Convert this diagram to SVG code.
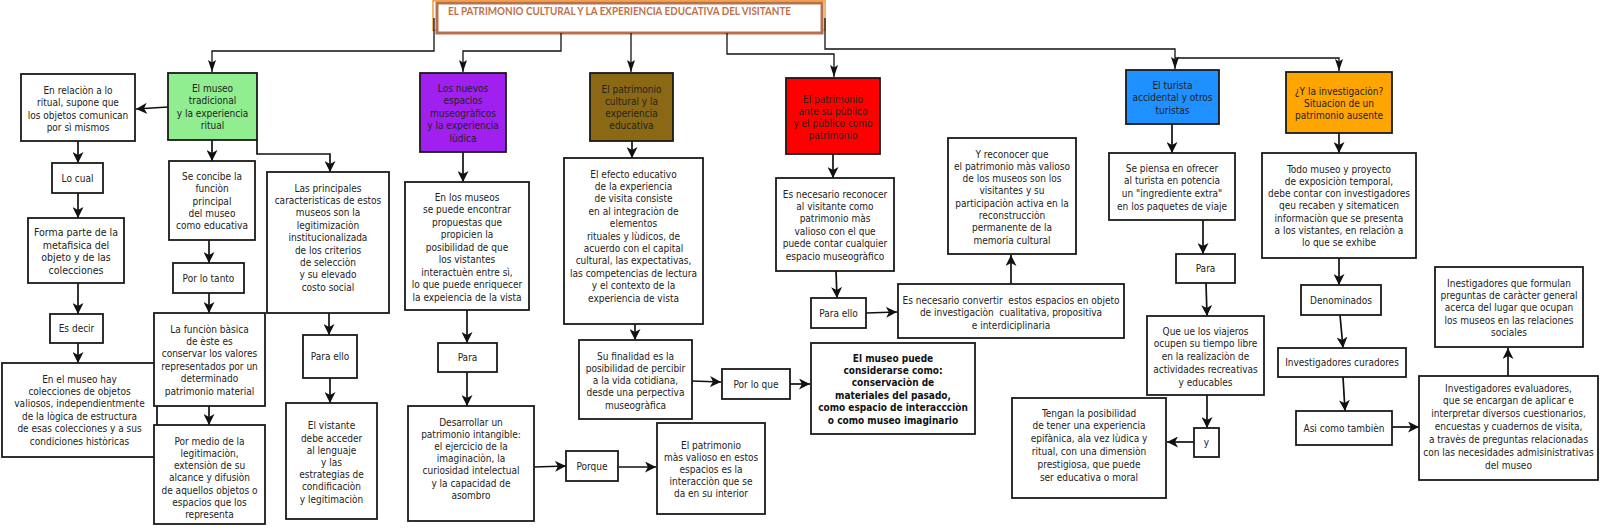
<svg xmlns="http://www.w3.org/2000/svg" width="1600" height="530" viewBox="0 0 1600 530">
<style>
.box{fill:#fff;stroke:#1a1a1a;stroke-width:1.8}
.t{font-family:"DejaVu Sans Condensed","DejaVu Sans",sans-serif;font-size:10px;fill:#222;text-anchor:middle}
.b{font-weight:bold;fill:#111}
.c{fill:none;stroke:#111;stroke-width:1.7;marker-end:url(#ah)}
.ct{fill:none;stroke:#111;stroke-width:1.3;marker-end:url(#ah2)}
</style>
<defs>
<marker id="ah" markerUnits="userSpaceOnUse" markerWidth="12" markerHeight="11" refX="11" refY="5.5" orient="auto"><path d="M0,0 L11,5.5 L0,11 L3,5.5 z" fill="#111"/></marker>
<marker id="ah2" markerUnits="userSpaceOnUse" markerWidth="13" markerHeight="8" refX="12" refY="4" orient="auto"><path d="M0,0 L12,4 L0,8 L2.5,4 z" fill="#111"/></marker>
</defs>
<rect width="1600" height="530" fill="#fff"/>

<g id="title">
<rect x="433" y="0.8" width="392" height="29.5" fill="none" stroke="#F2A24E" stroke-width="1.6"/>
<rect x="437" y="3" width="385" height="30" fill="#fff" stroke="#B7714F" stroke-width="3"/>
<text x="448" y="14.5" font-family="Lato,'Open Sans',sans-serif" font-weight="bold" font-size="10.5" fill="#C0714B" textLength="343" lengthAdjust="spacingAndGlyphs">EL PATRIMONIO CULTURAL Y LA EXPERIENCIA EDUCATIVA DEL VISITANTE</text>
</g>

<g id="connectors">
<path class="ct" d="M434,18 V51 H212 V72"/>
<path class="ct" d="M561,33 V51 H463 V72"/>
<path class="ct" d="M631,33 V72"/>
<path class="ct" d="M727,33 V54 H834 V77"/>
<path class="ct" d="M825,18 V49 H1175 V69"/>
<path class="ct" d="M1175,58 H1339 V71"/>
<path class="c" d="M168,107 L136,109"/>
<path class="c" d="M78,141 V163"/>
<path class="c" d="M78,193 V218"/>
<path class="c" d="M78,283 V314"/>
<path class="c" d="M78,343 V363"/>
<path class="c" d="M212,140 V161"/>
<path class="c" d="M209,240 V263"/>
<path class="c" d="M209,293 V313"/>
<path class="c" d="M209,406 V425"/>
<path class="c" d="M257,140 V154 H330 V172"/>
<path class="c" d="M329,313 V335"/>
<path class="c" d="M330,378 V403"/>
<path class="c" d="M463,152 V182"/>
<path class="c" d="M467,310 V343"/>
<path class="c" d="M467,372 V406"/>
<path class="c" d="M534,467 L566,466"/>
<path class="c" d="M619,467 L656,467"/>
<path class="c" d="M632,141 V158"/>
<path class="c" d="M635,324 V340"/>
<path class="c" d="M692,381 L721,382"/>
<path class="c" d="M790,384 L810,384"/>
<path class="c" d="M833,154 V178"/>
<path class="c" d="M836,271 L837,298"/>
<path class="c" d="M866,313 L897,312"/>
<path class="c" d="M1011,284 V255"/>
<path class="c" d="M1172,124 V153"/>
<path class="c" d="M1203,220 V254"/>
<path class="c" d="M1206,283 L1207,316"/>
<path class="c" d="M1207,395 V428"/>
<path class="c" d="M1194,442 H1167"/>
<path class="c" d="M1339,133 V153"/>
<path class="c" d="M1339,258 V285"/>
<path class="c" d="M1340,315 L1343,348"/>
<path class="c" d="M1343,377 L1345,411"/>
<path class="c" d="M1392,427 H1419"/>
<path class="c" d="M1508,376 V348"/>
</g>

<g id="n1"><rect class="box" x="21" y="74" width="114" height="67"/><text class="t" y="94.2"><tspan x="78">En relaciòn a lo</tspan><tspan x="78" dy="12.2">ritual, supone que</tspan><tspan x="78" dy="12.2">los objetos comunican</tspan><tspan x="78" dy="12.2">por sì mismos</tspan></text></g>
<g id="n2"><rect class="box" x="52" y="163" width="51" height="30"/><text class="t" x="77.5" y="181.5">Lo cual</text></g>
<g id="n3"><rect class="box" x="28" y="218" width="96" height="65"/><text class="t" y="236.4" style="font-size:10.5px"><tspan x="76">Forma parte de la</tspan><tspan x="76" dy="12.4">metafisica del</tspan><tspan x="76" dy="12.4">objeto y de las</tspan><tspan x="76" dy="12.4">colecciones</tspan></text></g>
<g id="n4"><rect class="box" x="50" y="314" width="53" height="29"/><text class="t" x="76.5" y="332">Es decir</text></g>
<g id="n5"><rect class="box" x="2" y="363" width="155" height="94"/><text class="t" y="382.5"><tspan x="79.5">En el museo hay</tspan><tspan x="79.5" dy="12.4">colecciones de objetos</tspan><tspan x="79.5" dy="12.4">valiosos, independientmente</tspan><tspan x="79.5" dy="12.4">de la lògica de estructura</tspan><tspan x="79.5" dy="12.4">de esas colecciones y a sus</tspan><tspan x="79.5" dy="12.4">condiciones històricas</tspan></text></g>

<g id="g0"><rect class="box" x="168" y="73" width="89" height="67" style="fill:#90EE90"/><text class="t" y="91.8"><tspan x="212.5">El museo</tspan><tspan x="212.5" dy="12.5">tradicional</tspan><tspan x="212.5" dy="12.5">y la experiencia</tspan><tspan x="212.5" dy="12.5">ritual</tspan></text></g>
<g id="g1"><rect class="box" x="169" y="161" width="86" height="79"/><text class="t" y="179.9"><tspan x="212">Se concibe la</tspan><tspan x="212" dy="12.3">funciòn</tspan><tspan x="212" dy="12.3">principal</tspan><tspan x="212" dy="12.3">del museo</tspan><tspan x="212" dy="12.3">como educativa</tspan></text></g>
<g id="g2"><rect class="box" x="173" y="263" width="71" height="30"/><text class="t" x="208.5" y="281.5">Por lo tanto</text></g>
<g id="g3"><rect class="box" x="154" y="313" width="111" height="93"/><text class="t" y="332.5"><tspan x="209.5">La funciòn bàsica</tspan><tspan x="209.5" dy="12.4">de èste es</tspan><tspan x="209.5" dy="12.4">conservar los valores</tspan><tspan x="209.5" dy="12.4">representados por un</tspan><tspan x="209.5" dy="12.4">determinado</tspan><tspan x="209.5" dy="12.4">patrimonio material</tspan></text></g>
<g id="g4"><rect class="box" x="154" y="425" width="111" height="99"/><text class="t" y="444.5"><tspan x="209.5">Por medio de la</tspan><tspan x="209.5" dy="12.3">legitimaciòn,</tspan><tspan x="209.5" dy="12.3">extensiòn de su</tspan><tspan x="209.5" dy="12.3">alcance y difusiòn</tspan><tspan x="209.5" dy="12.3">de aquellos objetos o</tspan><tspan x="209.5" dy="12.3">espacios que los</tspan><tspan x="209.5" dy="12.3">representa</tspan></text></g>
<g id="g5"><rect class="box" x="267" y="172" width="122" height="141"/><text class="t" y="191.5"><tspan x="328">Las principales</tspan><tspan x="328" dy="12.4">caracteristicas de estos</tspan><tspan x="328" dy="12.4">museos son la</tspan><tspan x="328" dy="12.4">legitimizaciòn</tspan><tspan x="328" dy="12.4">institucionalizada</tspan><tspan x="328" dy="12.4">de los criterios</tspan><tspan x="328" dy="12.4">de selecciòn</tspan><tspan x="328" dy="12.4">y su elevado</tspan><tspan x="328" dy="12.4">costo social</tspan></text></g>
<g id="g6"><rect class="box" x="303" y="335" width="54" height="43"/><text class="t" x="330" y="360">Para ello</text></g>
<g id="g7"><rect class="box" x="286" y="403" width="91" height="116"/><text class="t" y="429.4"><tspan x="331.5">El vistante</tspan><tspan x="331.5" dy="12.2">debe acceder</tspan><tspan x="331.5" dy="12.2">al lenguaje</tspan><tspan x="331.5" dy="12.2">y las</tspan><tspan x="331.5" dy="12.2">estrategias de</tspan><tspan x="331.5" dy="12.2">condificaciòn</tspan><tspan x="331.5" dy="12.2">y legitimaciòn</tspan></text></g>

<g id="p0"><rect class="box" x="420" y="73" width="86" height="79" style="fill:#A020F0"/><text class="t" y="91.5"><tspan x="463">Los nuevos</tspan><tspan x="463" dy="12.5">espacios</tspan><tspan x="463" dy="12.5">museogràficos</tspan><tspan x="463" dy="12.5">y la experiencia</tspan><tspan x="463" dy="12.5">lùdica</tspan></text></g>
<g id="p1"><rect class="box" x="405" y="182" width="124" height="128"/><text class="t" y="200.5"><tspan x="467">En los museos</tspan><tspan x="467" dy="12.5">se puede encontrar</tspan><tspan x="467" dy="12.5">propuestas que</tspan><tspan x="467" dy="12.5">propicien la</tspan><tspan x="467" dy="12.5">posibilidad de que</tspan><tspan x="467" dy="12.5">los vistantes</tspan><tspan x="467" dy="12.5">interactuèn entre sì,</tspan><tspan x="467" dy="12.5">lo que puede enriquecer</tspan><tspan x="467" dy="12.5">la expeiencia de la vista</tspan></text></g>
<g id="p2"><rect class="box" x="438" y="343" width="59" height="29"/><text class="t" x="467.5" y="361">Para</text></g>
<g id="p3"><rect class="box" x="408" y="406" width="126" height="115"/><text class="t" y="425.5"><tspan x="471">Desarrollar un</tspan><tspan x="471" dy="12.2">patrimonio intangible:</tspan><tspan x="471" dy="12.2">el ejercicio de la</tspan><tspan x="471" dy="12.2">imaginaciòn, la</tspan><tspan x="471" dy="12.2">curiosidad intelectual</tspan><tspan x="471" dy="12.2">y la capacidad de</tspan><tspan x="471" dy="12.2">asombro</tspan></text></g>
<g id="p4"><rect class="box" x="566" y="451" width="52" height="30"/><text class="t" x="592" y="469.5">Porque</text></g>
<g id="p5"><rect class="box" x="657" y="423" width="108" height="91"/><text class="t" y="448.5"><tspan x="711">El patrimonio</tspan><tspan x="711" dy="12">màs valioso en estos</tspan><tspan x="711" dy="12">espacios es la</tspan><tspan x="711" dy="12">interacciòn que se</tspan><tspan x="711" dy="12">da en su interior</tspan></text></g>

<g id="b0"><rect class="box" x="590" y="73" width="83" height="68" style="fill:#8B6914"/><text class="t" y="92.5"><tspan x="631.5">El patrimonio</tspan><tspan x="631.5" dy="12.3">cultural y la</tspan><tspan x="631.5" dy="12.3">experiencia</tspan><tspan x="631.5" dy="12.3">educativa</tspan></text></g>
<g id="b1"><rect class="box" x="564" y="158" width="139" height="166"/><text class="t" y="177.5"><tspan x="633.5">El efecto educativo</tspan><tspan x="633.5" dy="12.4">de la experiencia</tspan><tspan x="633.5" dy="12.4">de visita consiste</tspan><tspan x="633.5" dy="12.4">en al integraciòn de</tspan><tspan x="633.5" dy="12.4">elementos</tspan><tspan x="633.5" dy="12.4">rituales y lùdicos, de</tspan><tspan x="633.5" dy="12.4">acuerdo con el capital</tspan><tspan x="633.5" dy="12.4">cultural, las expectativas,</tspan><tspan x="633.5" dy="12.4">las competencias de lectura</tspan><tspan x="633.5" dy="12.4">y el contexto de la</tspan><tspan x="633.5" dy="12.4">experiencia de vista</tspan></text></g>
<g id="b2"><rect class="box" x="579" y="340" width="113" height="79"/><text class="t" y="359.5"><tspan x="635.5">Su finalidad es la</tspan><tspan x="635.5" dy="12.3">posibilidad de percibir</tspan><tspan x="635.5" dy="12.3">a la vida cotidiana,</tspan><tspan x="635.5" dy="12.3">desde una perpectiva</tspan><tspan x="635.5" dy="12.3">museogràfica</tspan></text></g>
<g id="b3"><rect class="box" x="722" y="369" width="68" height="30"/><text class="t" x="756" y="387.5">Por lo que</text></g>
<g id="b4"><rect class="box" x="811" y="343" width="164" height="91"/><text class="t b" y="361.5"><tspan x="893">El museo puede</tspan><tspan x="893" dy="12.4">considerarse como:</tspan><tspan x="893" dy="12.4">conservaciòn de</tspan><tspan x="893" dy="12.4">materiales del pasado,</tspan><tspan x="893" dy="12.4">como espacio de interaccciòn</tspan><tspan x="893" dy="12.4">o como museo imaginario</tspan></text></g>

<g id="r0"><rect class="box" x="786" y="78" width="94" height="76" style="fill:#FF0000"/><text class="t" y="102.5"><tspan x="833">El patrimonio</tspan><tspan x="833" dy="12.3">ante su pùblico</tspan><tspan x="833" dy="12.3">y el pùblico como</tspan><tspan x="833" dy="12.3">patrimonio</tspan></text></g>
<g id="r1"><rect class="box" x="776" y="178" width="118" height="93"/><text class="t" y="197.5"><tspan x="835">Es necesario reconocer</tspan><tspan x="835" dy="12.4">al visitante como</tspan><tspan x="835" dy="12.4">patrimonio màs</tspan><tspan x="835" dy="12.4">valioso con el que</tspan><tspan x="835" dy="12.4">puede contar cualquier</tspan><tspan x="835" dy="12.4">espacio museogràfico</tspan></text></g>
<g id="r2"><rect class="box" x="811" y="298" width="55" height="30"/><text class="t" x="838.5" y="316.5">Para ello</text></g>
<g id="r3"><rect class="box" x="898" y="284" width="226" height="54"/><text class="t" y="303.5" xml:space="preserve"><tspan x="1011">Es necesario convertir  estos espacios en objeto</tspan><tspan x="1011" dy="12.5">de investigaciòn  cualitativa, propositiva</tspan><tspan x="1011" dy="12.5">e interdiciplinaria</tspan></text></g>
<g id="r4"><rect class="box" x="948" y="138" width="128" height="116"/><text class="t" y="157.5"><tspan x="1012">Y reconocer que</tspan><tspan x="1012" dy="12.3">el patrimonio màs valioso</tspan><tspan x="1012" dy="12.3">de los museos son los</tspan><tspan x="1012" dy="12.3">visitantes y su</tspan><tspan x="1012" dy="12.3">participaciòn activa en la</tspan><tspan x="1012" dy="12.3">reconstrucciòn</tspan><tspan x="1012" dy="12.3">permanente de la</tspan><tspan x="1012" dy="12.3">memoria cultural</tspan></text></g>

<g id="t0"><rect class="box" x="1126" y="70" width="93" height="54" style="fill:#1E90FF"/><text class="t" y="88.5"><tspan x="1172.5">El turista</tspan><tspan x="1172.5" dy="12.5">accidental y otros</tspan><tspan x="1172.5" dy="12.5">turistas</tspan></text></g>
<g id="t1"><rect class="box" x="1109" y="153" width="126" height="67"/><text class="t" y="171.5"><tspan x="1172">Se piensa en ofrecer</tspan><tspan x="1172" dy="12.7">al turista en potencia</tspan><tspan x="1172" dy="12.7">un "ingrediente extra"</tspan><tspan x="1172" dy="12.7">en los paquetes de viaje</tspan></text></g>
<g id="t2"><rect class="box" x="1176" y="254" width="59" height="29"/><text class="t" x="1205.5" y="272">Para</text></g>
<g id="t3"><rect class="box" x="1147" y="316" width="117" height="79"/><text class="t" y="334.5"><tspan x="1205.5">Que ue los viajeros</tspan><tspan x="1205.5" dy="12.75">ocupen su tiempo libre</tspan><tspan x="1205.5" dy="12.75">en la realizaciòn de</tspan><tspan x="1205.5" dy="12.75">actividades recreativas</tspan><tspan x="1205.5" dy="12.75">y educables</tspan></text></g>
<g id="t4"><rect class="box" x="1194" y="428" width="25" height="29"/><text class="t" x="1206.5" y="446">y</text></g>
<g id="t5"><rect class="box" x="1012" y="398" width="154" height="100"/><text class="t" y="416.5"><tspan x="1089">Tengan la posibilidad</tspan><tspan x="1089" dy="12.8">de tener una experiencia</tspan><tspan x="1089" dy="12.8">epifànica, ala vez lùdica y</tspan><tspan x="1089" dy="12.8">ritual, con una dimensiòn</tspan><tspan x="1089" dy="12.8">prestigiosa, que puede</tspan><tspan x="1089" dy="12.8">ser educativa o moral</tspan></text></g>

<g id="o0"><rect class="box" x="1286" y="72" width="106" height="61" style="fill:#FFA500"/><text class="t" y="94.5"><tspan x="1339">¿Y la investigaciòn?</tspan><tspan x="1339" dy="12">Situacion de un</tspan><tspan x="1339" dy="12">patrimonio ausente</tspan></text></g>
<g id="o1"><rect class="box" x="1262" y="153" width="154" height="105"/><text class="t" y="172.5"><tspan x="1339">Todo museo y proyecto</tspan><tspan x="1339" dy="12.3">de exposiciòn temporal,</tspan><tspan x="1339" dy="12.3">debe contar con investigadores</tspan><tspan x="1339" dy="12.3">qeu recaben y sitematicen</tspan><tspan x="1339" dy="12.3">informaciòn que se presenta</tspan><tspan x="1339" dy="12.3">a los vistantes, en relaciòn a</tspan><tspan x="1339" dy="12.3">lo que se exhibe</tspan></text></g>
<g id="o2"><rect class="box" x="1301" y="285" width="80" height="30"/><text class="t" x="1341" y="303.5">Denominados</text></g>
<g id="o3"><rect class="box" x="1278" y="348" width="128" height="29"/><text class="t" x="1342" y="366">Investigadores curadores</text></g>
<g id="o4"><rect class="box" x="1296" y="411" width="96" height="34"/><text class="t" x="1344" y="431.5">Asi como tambièn</text></g>
<g id="o5"><rect class="box" x="1419" y="376" width="179" height="104"/><text class="t" y="391.5"><tspan x="1508.5">Investigadores evaluadores,</tspan><tspan x="1508.5" dy="12.9">que se encargan de aplicar e</tspan><tspan x="1508.5" dy="12.9">interpretar diversos cuestionarios,</tspan><tspan x="1508.5" dy="12.9">encuestas y cuadernos de visita,</tspan><tspan x="1508.5" dy="12.9">a travès de preguntas relacionadas</tspan><tspan x="1508.5" dy="12.9">con las necesidades admisinistrativas</tspan><tspan x="1508.5" dy="12.9">del museo</tspan></text></g>
<g id="o6"><rect class="box" x="1435" y="267" width="148" height="80"/><text class="t" y="286.5"><tspan x="1509">Inestigadores que formulan</tspan><tspan x="1509" dy="12.4">preguntas de caràcter general</tspan><tspan x="1509" dy="12.4">acerca del lugar que ocupan</tspan><tspan x="1509" dy="12.4">los museos en las relaciones</tspan><tspan x="1509" dy="12.4">sociales</tspan></text></g>
</svg>
